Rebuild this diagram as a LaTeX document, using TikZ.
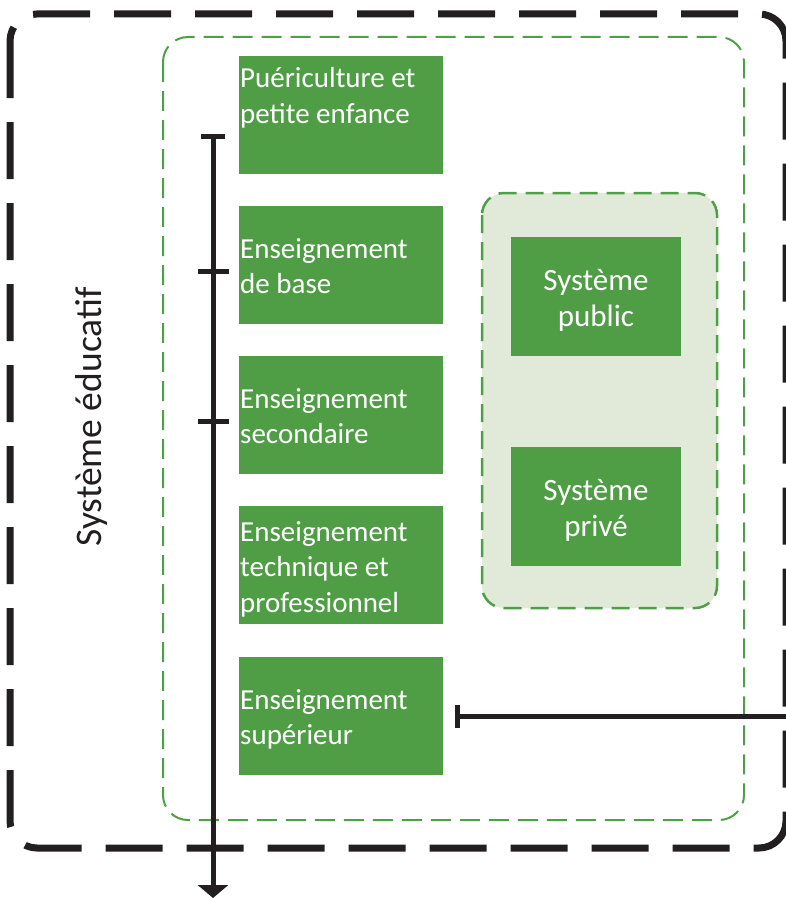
\documentclass[tikz,border=0pt]{standalone}
\usepackage{fontspec}
\setmainfont{Carlito}
\usetikzlibrary{arrows.meta}
\definecolor{boxgreen}{HTML}{4F9E45}
\definecolor{dashgreen}{HTML}{4EA046}
\definecolor{lightgreen}{HTML}{E1EAD9}
\definecolor{darkline}{HTML}{231F20}
\begin{document}
\begin{tikzpicture}[x=1pt,y=-1pt,
  stagebox/.style={fill=boxgreen, draw=none, minimum width=204pt, minimum height=118pt, inner sep=0pt, anchor=north west},
  sysbox/.style={fill=boxgreen, draw=none, minimum width=170pt, minimum height=119pt, inner sep=0pt, anchor=north west},
  lbl/.style={text=white, inner sep=0pt, font=\fontsize{29}{35.5}\selectfont},
  syslbl/.style={text=white, inner sep=0pt, font=\fontsize{31}{36.5}\selectfont},
  axisline/.style={draw=darkline, line width=5pt},
  tickline/.style={draw=darkline, line width=5pt},
  outerframe/.style={draw=darkline, line width=7pt, dash pattern=on 57pt off 24pt, rounded corners=27pt},
  innerframe/.style={draw=dashgreen, line width=2pt, dash pattern=on 20pt off 9pt, rounded corners=25pt},
  groupframe/.style={draw=dashgreen, fill=lightgreen, line width=2.5pt, dash pattern=on 18pt off 9pt, rounded corners=22pt}
]
\useasboundingbox (0,0) rectangle (785,899);
% frames
\draw[outerframe] (10,14) rectangle (786,848);
\draw[innerframe] (163,37) rectangle (744,820);
\draw[groupframe] (482,193) rectangle (717,608);
% stage boxes
\node[stagebox] (b1) at (239,56) {};
\node[stagebox] (b2) at (239,206) {};
\node[stagebox] (b3) at (239,356) {};
\node[stagebox] (b4) at (239,506) {};
\node[stagebox] (b5) at (239,657) {};
\node[lbl, anchor=base west] (t1) at (240,88) {\vtop{\hbox{Puériculture et}\hbox{petite enfance}}};
\node[lbl, anchor=base west] (t2) at (240,258) {\vtop{\hbox{Enseignement}\hbox{de base}}};
\node[lbl, anchor=base west] (t3) at (240,408) {\vtop{\hbox{Enseignement}\hbox{secondaire}}};
\node[lbl, anchor=base west] (t4) at (240,541) {\vtop{\hbox{Enseignement}\hbox{technique et}\hbox{professionnel}}};
\node[lbl, anchor=base west] (t5) at (240,709) {\vtop{\hbox{Enseignement}\hbox{supérieur}}};
% system boxes
\node[sysbox] (pub) at (511,237) {};
\node[sysbox] (priv) at (511,447) {};
\node[syslbl, anchor=base] (tpub) at (596,290) {\vtop{\hbox to 0pt{\hss Système\hss}\hbox to 0pt{\hss public\hss}}};
\node[syslbl, anchor=base] (tpriv) at (596,500) {\vtop{\hbox to 0pt{\hss Système\hss}\hbox to 0pt{\hss privé\hss}}};
% rotated label
\node[text=darkline, inner sep=0pt, font=\fontsize{37.5}{45}\selectfont, rotate=90, anchor=base] (sys) at (101,417) {Système éducatif};
% axis
\coordinate (axtop) at (213,134);
\coordinate (axbot) at (213,898);
\coordinate (tickA) at (213,271);
\coordinate (tickB) at (213,421);
\draw[axisline, {Bar[width=24pt]}-{Triangle[width=30pt,length=13pt]}] (axtop) -- (axbot);
\draw[tickline] ([xshift=-15pt]tickA) -- ([xshift=16pt]tickA);
\draw[tickline] ([xshift=-15pt]tickB) -- ([xshift=16pt]tickB);
% horizontal connector
\coordinate (hstart) at ([xshift=12pt]b5.east |- 0,716);
\coordinate (hend) at (792,716);
\draw[axisline, {Bar[width=23pt]}-] (hstart) -- (hend);
\end{tikzpicture}
\end{document}
